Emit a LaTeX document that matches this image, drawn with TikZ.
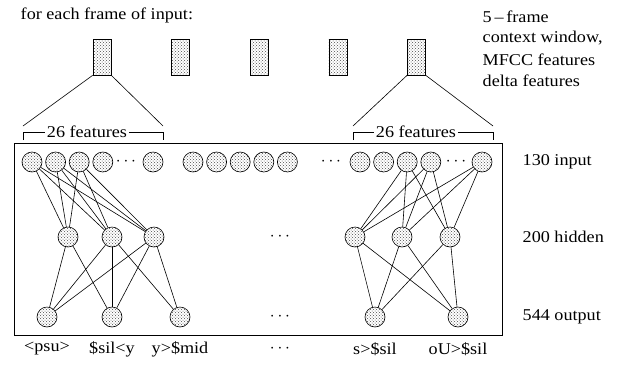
\documentclass[tikz,border=0pt]{standalone}
\usepackage{fontspec}
\setmainfont[FakeStretch=1.1]{Liberation Serif}
\tikzstyle{every node}+=[inner sep=0.5mm,font=\fontsize{16.5}{19}\selectfont]
\tikzstyle{every path}+=[line width=0.6pt]
\usetikzlibrary{positioning,patterns}
\tikzstyle{unit}=[circle,draw,minimum size=20pt,inner sep=0pt,pattern=crosshatch dots,pattern color=black!70]
\tikzstyle{frame}=[rectangle,draw,minimum width=18pt,minimum height=36pt,inner sep=0pt,pattern=crosshatch dots,pattern color=black!70]
\tikzstyle{lbl}=[anchor=west]
\newcommand{\drawedges}[2][\empty]{
	\foreach \a/\b in {#2}{
		\draw[#1] (\a) -- (\b);
	}
}

\begin{document}
\begin{tikzpicture}[x=1pt,y=-1pt]
\useasboundingbox (0,0) rectangle (627,365);

\node[lbl] (title) at (19,15) {for each frame of input:};

\node[lbl] (ctx1) at (481,17) {5\,--\,frame};
\node[lbl] (ctx2) at (481,38) {context window,};
\node[lbl] (ctx3) at (481,60) {MFCC features};
\node[lbl] (ctx4) at (481,81) {delta features};

% context window frames
\node[frame] (f1) at (102,57) {};
\node[frame,right=60pt of f1] (f2) {};
\node[frame,right=60pt of f2] (f3) {};
\node[frame,right=60pt of f3] (f4) {};
\node[frame,right=60pt of f4] (f5) {};

\coordinate (tl1) at (23,126);
\coordinate (tr1) at (163,126);
\coordinate (tl5) at (353,126);
\coordinate (tr5) at (493,126);
\draw (f1.south west) -- (tl1);
\draw (f1.south east) -- (tr1);
\draw (f5.south west) -- (tl5);
\draw (f5.south east) -- (tr5);

\node (feat1) at (87,132) {26 features};
\node (feat5) at (416,132) {26 features};
\coordinate (bl1) at (23,140);
\coordinate (br1) at (163,140);
\coordinate (bl5) at (353,140);
\coordinate (br5) at (493,140);
\draw (bl1) |- (feat1.west);
\draw (feat1.east) -| (br1);
\draw (bl5) |- (feat5.west);
\draw (feat5.east) -| (br5);

\draw (14,143) rectangle (502,335);

% input layer
\node[unit] (i1) at (32,162) {};
\node[unit,right=3pt of i1] (i2) {};
\node[unit,right=3pt of i2] (i3) {};
\node[unit,right=3pt of i3] (i4) {};
\node (idots) at (126,162) {$\cdots$};
\node[unit] (i5) at (153,162) {};

\node[unit] (m1) at (193,162) {};
\node[unit,right=3pt of m1] (m2) {};
\node[unit,right=3pt of m2] (m3) {};
\node[unit,right=3pt of m3] (m4) {};
\node[unit,right=3pt of m4] (m5) {};
\node (mdots) at (331,162) {$\cdots$};

\node[unit] (r1) at (360,162) {};
\node[unit,right=3pt of r1] (r2) {};
\node[unit,right=3pt of r2] (r3) {};
\node[unit,right=3pt of r3] (r4) {};
\node (rdots) at (456,162) {$\cdots$};
\node[unit] (r5) at (482,162) {};

% hidden layer
\node[unit] (h1) at (68,237) {};
\node[unit] (h2) at (112,237) {};
\node[unit] (h3) at (154,237) {};
\node (hdots) at (280,237) {$\cdots$};
\node[unit] (g1) at (355,237) {};
\node[unit] (g2) at (402,237) {};
\node[unit] (g3) at (450,237) {};

% output layer
\node[unit] (o1) at (47,317) {};
\node[unit] (o2) at (112,317) {};
\node[unit] (o3) at (180,317) {};
\node (odots) at (280,317) {$\cdots$};
\node[unit] (p1) at (375,317) {};
\node[unit] (p2) at (458,317) {};

\drawedges{i1/h1,i1/h2,i1/h3,i2/h1,i2/h2,i2/h3,i3/h1,i3/h2,i3/h3}
\drawedges{r3/g1,r3/g2,r3/g3,r4/g1,r4/g2,r4/g3,r5/g1,r5/g2,r5/g3}
\drawedges{h1/o1,h1/o2,h2/o1,h2/o2,h2/o3,h3/o1,h3/o2,h3/o3}
\drawedges{g1/p1,g1/p2,g2/p1,g2/p2,g3/p1,g3/p2}

% output labels
\node (lo1) at (47,349) {<psu>};
\node (lo2) at (112,349) {\$sil<y};
\node (lo3) at (180,349) {y>\$mid};
\node (lodots) at (280,349) {$\cdots$};
\node (lp1) at (375,349) {s>\$sil};
\node (lp2) at (458,349) {oU>\$sil};

\node[lbl] (lin) at (521,162) {130 input};
\node[lbl] (lhid) at (521,237) {200 hidden};
\node[lbl] (lout) at (521,317) {544 output};

\end{tikzpicture}
\end{document}
